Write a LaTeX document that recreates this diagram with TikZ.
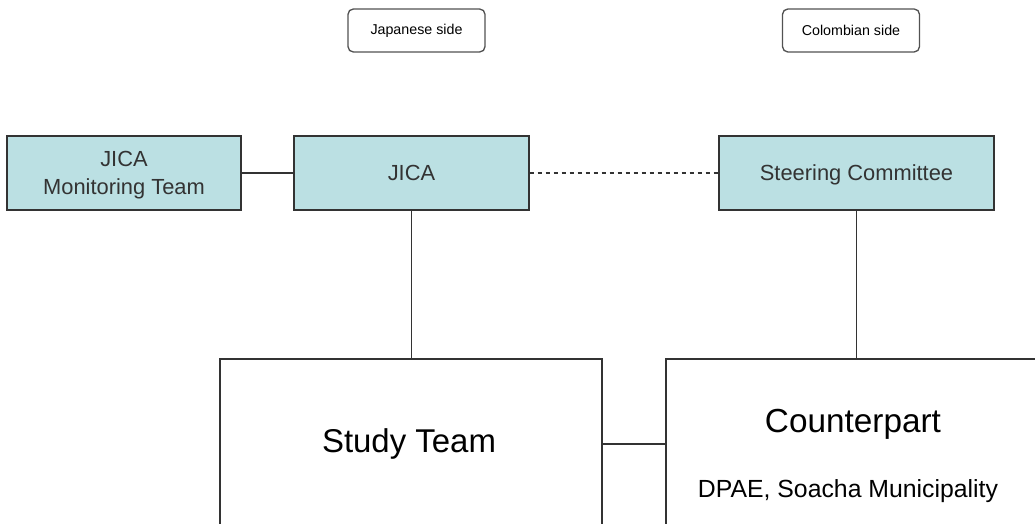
\documentclass[tikz,border=0pt]{standalone}
\usepackage{fontspec}
\setmainfont{Liberation Sans}
\usepackage{xcolor}
\usetikzlibrary{positioning}
\definecolor{boxfill}{RGB}{187,224,227}
\definecolor{edgegray}{RGB}{51,51,51}

\begin{document}
\begin{tikzpicture}[x=0.75pt, y=-0.75pt,
        sidebox/.style={draw=edgegray!85, line width=1pt, rounded corners=4pt,
            minimum width=102.75pt, minimum height=32.25pt, inner sep=0pt,
            font=\fontsize{10.7}{13}\selectfont},
        orgbox/.style={draw=edgegray, fill=boxfill, line width=1.1pt, text=edgegray,
            minimum height=55.5pt, inner sep=0pt, align=center,
            text height=11.7pt, text depth=0pt,
            font=\fontsize{16.4}{21}\selectfont},
        bigbox/.style={draw=edgegray, line width=1pt, minimum height=127.5pt, inner sep=0pt},
        link/.style={draw=edgegray, line width=0.9pt}]
        \useasboundingbox (0,0) rectangle (1035,524);
        \clip (0,0) rectangle (1035,524);

        \node[sidebox] (jside) at (416.5, 30.5) {Japanese side};
        \node[sidebox] (cside) at (851, 30.5)   {Colombian side};

        \node[orgbox, minimum width=175.5pt, text height=32.7pt]  (mon) at (124, 173) {JICA\\Monitoring Team};
        \node[orgbox, minimum width=176.25pt] (jica)  at (411.5, 173) {JICA};
        \node[orgbox, minimum width=206.25pt] (steer) at (856.5, 173) {Steering Committee};

        % study team and counterpart run off the page
        \node[bigbox, minimum width=286.5pt] (study) at (411, 444) {};
        \node[bigbox, minimum width=280.5pt] (cpart) at (853, 444) {};
        \node[anchor=base, font=\fontsize{24.7}{28}\selectfont] (studylbl) at (409, 452) {Study Team};
        \node[anchor=base, font=\fontsize{25}{28}\selectfont]   (cpartlbl) at (853, 432) {Counterpart};
        \node[anchor=base, font=\fontsize{18.6}{22}\selectfont] (dpae)     at (848, 497) {DPAE, Soacha Municipality};

        \draw[link] (mon) -- (jica);
        \draw[link, dash pattern=on 3.5pt off 2.5pt] (jica) -- (steer);
        \draw[link] (jica.south) -- (jica.south |- study.north);
        \draw[link] (steer.south) -- (steer.south |- cpart.north);
        \draw[link] (study) -- (cpart);
    \end{tikzpicture}
\end{document}
